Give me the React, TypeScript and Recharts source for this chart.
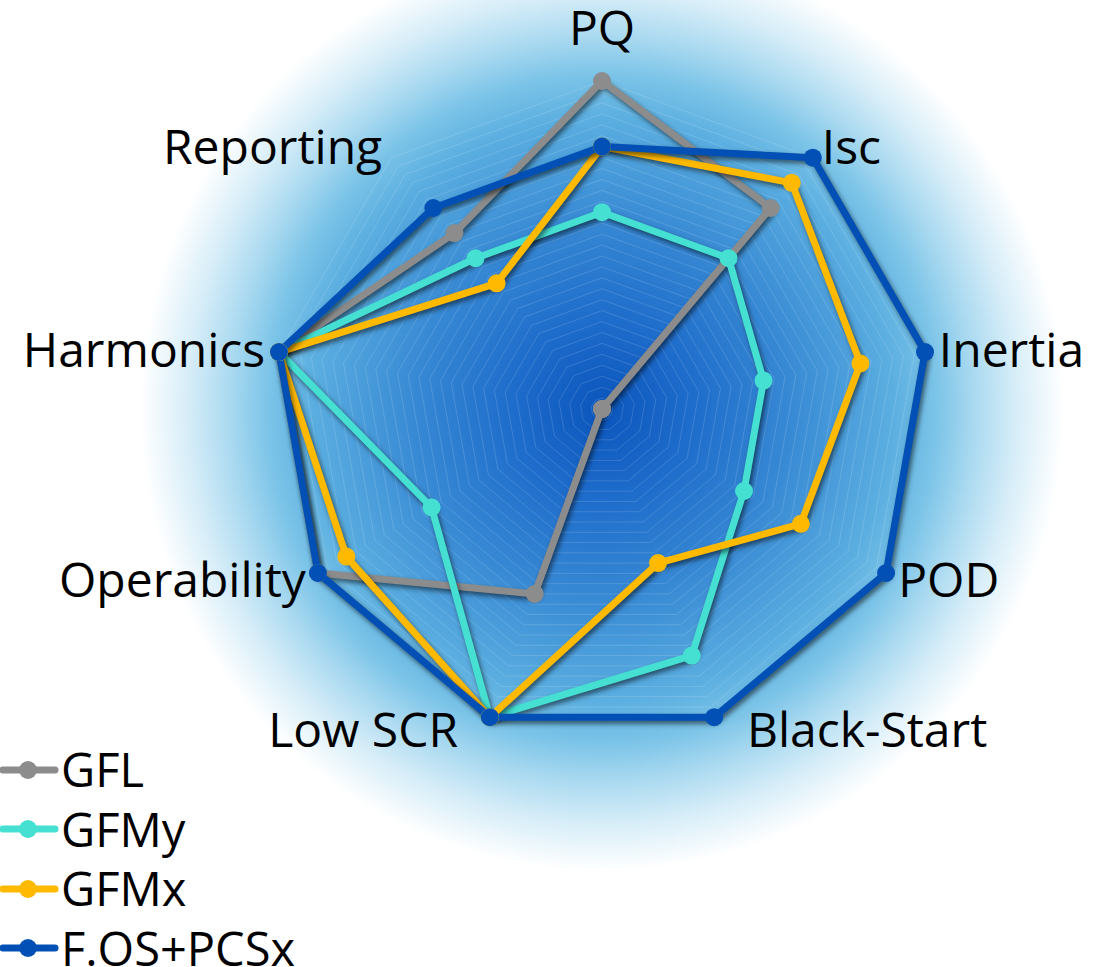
import React from "react";
import {
  RadarChart,
  Radar,
  PolarGrid,
  PolarAngleAxis,
  PolarRadiusAxis,
} from "recharts";

// Axes, clockwise from the top
const categories = [
  "PQ",
  "Isc",
  "Inertia",
  "POD",
  "Black-Start",
  "Low SCR",
  "Operability",
  "Harmonics",
  "Reporting",
];

// Scores on a 0-10 scale
const gflValues = [10, 8, 0, 0, 0, 6, 10, 10, 7];
const gfmyValues = [6, 6, 5, 5, 8, 10, 6, 10, 6];
const gfmxValues = [8, 9, 8, 7, 5, 10, 9, 10, 5];
const fosValues = [8, 10, 10, 10, 10, 10, 10, 10, 8];

const seriesNames = ["GFL", "GFMy", "GFMx", "F.OS+PCSx"];

interface SeriesConfig {
  key: string;
  name: string;
  color: string;
}

const series: SeriesConfig[] = [
  { key: "gfl", name: seriesNames[0], color: "#8c8c8c" },
  { key: "gfmy", name: seriesNames[1], color: "#45e0d2" },
  { key: "gfmx", name: seriesNames[2], color: "#ffba00" },
  { key: "fos", name: seriesNames[3], color: "#0250b6" },
];

const data = categories.map((name, i) => ({
  name,
  gfl: gflValues[i],
  gfmy: gfmyValues[i],
  gfmx: gfmxValues[i],
  fos: fosValues[i],
}));

// many faint concentric rings, as in the original
const gridTicks = Array.from({ length: 31 }, (_, i) => (i * 10) / 30);

const WIDTH = 1115;
const HEIGHT = 967;
const CX = 602;
const CY = 409;
const R = 328;
const FONT = "'Open Sans', 'Noto Sans', sans-serif";

// Axis label placed just outside the outer ring
const AngleTick = (props: any) => {
  const { payload } = props;
  const ang = (payload.coordinate * Math.PI) / 180;
  const c = Math.cos(ang);
  const s = Math.sin(ang);
  let x = CX + (R + 14) * c;
  let y = CY - (R + 14) * s + 17;
  let anchor: "start" | "end" | "middle" =
    c > 0.1 ? "start" : c < -0.1 ? "end" : "middle";
  if (s > 0.9) {
    y = CY - R - 36;
  }
  if (s < -0.9) {
    x += c > 0 ? 28 : -27;
  }
  return (
    <text
      x={x}
      y={y}
      textAnchor={anchor}
      fill="#000"
      fontSize={48}
      fontFamily={FONT}
    >
      {payload.value}
    </text>
  );
};

const LegendBox = () => (
  <div
    style={{
      position: "absolute",
      left: 0,
      top: 740,
      fontFamily: FONT,
      fontSize: 47,
      color: "#000",
    }}
  >
    {series.map((s) => (
      <div
        key={s.key}
        style={{ display: "flex", alignItems: "center", height: 59.5 }}
      >
        <svg width={60} height={24} style={{ flexShrink: 0 }}>
          <line
            x1={3}
            y1={12}
            x2={55}
            y2={12}
            stroke={s.color}
            strokeWidth={7}
            strokeLinecap="round"
          />
          <circle cx={28} cy={12} r={9} fill={s.color} />
        </svg>
        <span style={{ marginLeft: 1, lineHeight: 1 }}>{s.name}</span>
      </div>
    ))}
  </div>
);

export default function App() {
  return (
    <div
      style={{
        position: "absolute",
        left: 0,
        top: 0,
        width: WIDTH,
        height: HEIGHT,
        overflow: "hidden",
        background: `radial-gradient(circle at ${CX}px ${CY}px, #0a55bc 0px, #1e6ccb 90px, #3586d3 180px, #5aaee0 290px, #7cc4e8 335px, #a9d9f0 372px, #d6edf8 414px, #ffffff 462px)`,
      }}
    >
      <style>{`.recharts-radar { filter: drop-shadow(2px 3px 2.5px rgba(0,0,0,0.55)); }`}</style>
      <RadarChart
        width={WIDTH}
        height={HEIGHT}
        data={data}
        cx={CX}
        cy={CY}
        outerRadius={R}
        margin={{ top: 0, right: 0, bottom: 0, left: 0 }}
      >
        <PolarGrid
          gridType="polygon"
          radialLines={false}
          stroke="#ffffff"
          strokeOpacity={0.14}
        />
        <PolarRadiusAxis
          domain={[0, 10]}
          ticks={gridTicks as any}
          tick={false}
          axisLine={false}
        />
        <PolarAngleAxis
          dataKey="name"
          tick={<AngleTick />}
          tickLine={false}
          axisLine={false}
        />
        {series.map((s) => (
          <Radar
            key={s.key}
            dataKey={s.key}
            name={s.name}
            stroke={s.color}
            strokeWidth={7}
            strokeLinejoin="round"
            fill="none"
            fillOpacity={0}
            dot={{ r: 9, fill: s.color, stroke: "none", fillOpacity: 1 }}
            isAnimationActive={false}
          />
        ))}
      </RadarChart>
      <LegendBox />
    </div>
  );
}
